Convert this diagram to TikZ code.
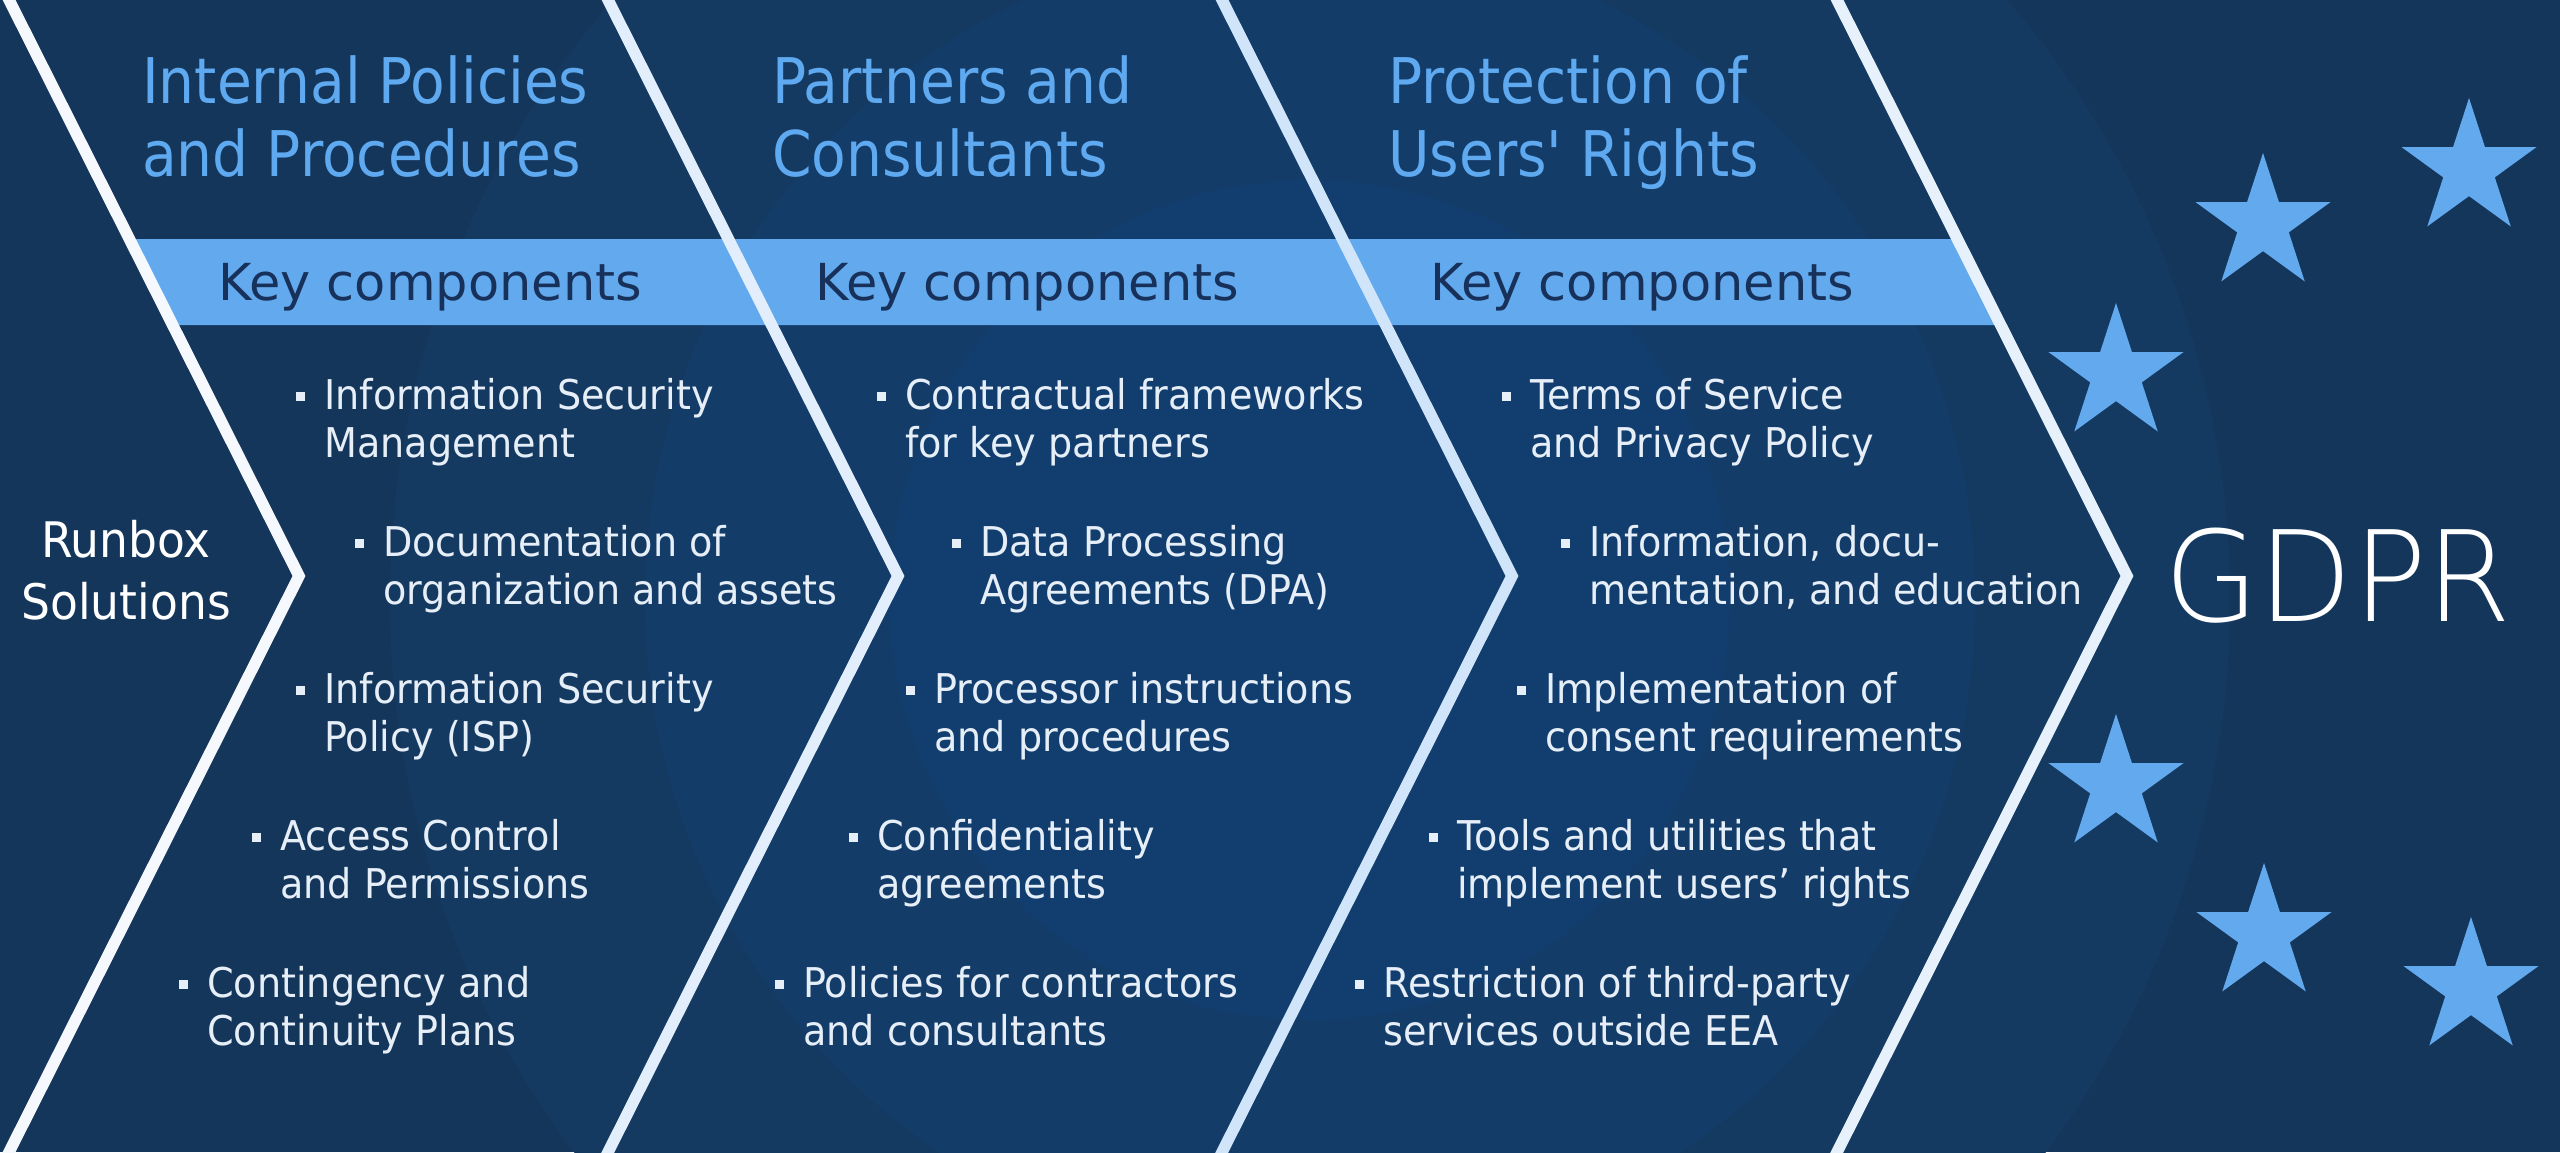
\documentclass[tikz,border=0pt]{standalone}
\usepackage{fontspec}
\usetikzlibrary{shapes.geometric}
\newfontfamily\bodyfont[FakeStretch=0.93]{DejaVu Sans}
\newfontfamily\titlefont[FakeStretch=0.9]{DejaVu Sans}
\newfontfamily\keyfont{DejaVu Sans}
\newfontfamily\gdprfont[FakeStretch=0.97]{DejaVu Sans ExtraLight}
\definecolor{bgA}{HTML}{15365B}
\definecolor{bgB}{HTML}{153A62}
\definecolor{bgC}{HTML}{133C69}
\definecolor{bgD}{HTML}{113E6F}
\definecolor{bandcol}{HTML}{63A9EE}
\definecolor{keycol}{HTML}{17315A}
\definecolor{titlecol}{HTML}{5EA9EF}
\definecolor{itemcol}{HTML}{E6EEF7}
\definecolor{starcol}{HTML}{62A9EE}
\definecolor{chevA}{HTML}{F5F9FD}
\definecolor{chevB}{HTML}{E2EEFB}
\definecolor{chevC}{HTML}{D0E5F9}
\definecolor{chevD}{HTML}{E6F1FC}
\newcommand\bitem[5]{%
  \node[item] (#1) at (#2,#3) {\vtop{\hbox{#4}\hbox{#5}}};
  \fill[itemcol] (#1.base west) ++(-28,-17) rectangle ++(9,9);}
\begin{document}
\begin{tikzpicture}[x=1pt,y=-1pt,
  item/.style={anchor=base west,inner sep=0pt,text=itemcol,font=\bodyfont\fontsize{41}{48}\selectfont},
  title/.style={anchor=base west,inner sep=0pt,text=titlecol,font=\titlefont\fontsize{63}{73}\selectfont},
  keytext/.style={anchor=base west,inner sep=0pt,text=keycol,font=\keyfont\fontsize{51}{60}\selectfont},
  chevline/.style={line width=11.5pt,line join=miter,miter limit=10},
  eustar/.style={star,star points=5,star point ratio=2.618,minimum size=142pt,inner sep=0pt,fill=starcol,draw=none}]
\useasboundingbox (0,0) rectangle (2560,1152);
\clip (0,0) rectangle (2560,1152);
% background
\fill[bgA] (0,0) rectangle (2560,1152);
\fill[bgB] (1310,600) circle[radius=920];
\fill[bgC] (1310,600) circle[radius=665];
\fill[bgD] (1310,600) circle[radius=420];
% key components band
\fill[bandcol] (125,239) -- (1963,239) -- (2006,325) -- (168,325) -- cycle;
% chevron lines
\draw[chevline,chevA] (-6,-30) -- (299,576) -- (-6,1182);
\draw[chevline,chevB] (593,-30) -- (898,576) -- (593,1182);
\draw[chevline,chevC] (1207,-30) -- (1512,576) -- (1207,1182);
\draw[chevline,chevD] (1822,-30) -- (2127,576) -- (1822,1182);
% titles
\node[title] (t1) at (142,103) {\vtop{\hbox{Internal Policies}\hbox{and Procedures}}};
\node[title] (t2) at (772,103) {\vtop{\hbox{Partners and}\hbox{Consultants}}};
\node[title] (t3) at (1388,103) {\vtop{\hbox{Protection of}\hbox{Users' Rights}}};
% key components
\node[keytext] (k1) at (218,300) {Key components};
\node[keytext] (k2) at (815,300) {Key components};
\node[keytext] (k3) at (1430,300) {Key components};
% start and goal
\node[anchor=base,inner sep=0pt,text=white,font=\bodyfont\fontsize{49}{62}\selectfont] (runbox) at (126,557)
  {\vtop{\hbox to 0pt{\hss Runbox\hss}\hbox to 0pt{\hss Solutions\hss}}};
\node[anchor=base west,inner sep=0pt,text=white,font=\gdprfont\fontsize{126}{130}\selectfont] (gdpr) at (2164,621) {GDPR};
% column 1
\bitem{a1}{324}{409}{Information Security}{Management}
\bitem{a2}{383}{556}{Documentation of}{organization and assets}
\bitem{a3}{324}{703}{Information Security}{Policy (ISP)}
\bitem{a4}{280}{850}{Access Control}{and Permissions}
\bitem{a5}{207}{997}{Contingency and}{Continuity Plans}
% column 2
\bitem{b1}{905}{409}{Contractual frameworks}{for key partners}
\bitem{b2}{980}{556}{Data Processing}{Agreements (DPA)}
\bitem{b3}{934}{703}{Processor instructions}{and procedures}
\bitem{b4}{877}{850}{Confidentiality}{agreements}
\bitem{b5}{803}{997}{Policies for contractors}{and consultants}
% column 3
\bitem{c1}{1530}{409}{Terms of Service}{and Privacy Policy}
\bitem{c2}{1589}{556}{Information, docu-}{mentation, and education}
\bitem{c3}{1545}{703}{Implementation of}{consent requirements}
\bitem{c4}{1457}{850}{Tools and utilities that}{implement users’ rights}
\bitem{c5}{1383}{997}{Restriction of third-party}{services outside EEA}
% stars
\node[eustar] (s1) at (2263,224) {};
\node[eustar] (s2) at (2469,169) {};
\node[eustar] (s3) at (2116,374) {};
\node[eustar] (s4) at (2116,785) {};
\node[eustar] (s5) at (2264,934) {};
\node[eustar] (s6) at (2471,988) {};
\end{tikzpicture}
\end{document}
